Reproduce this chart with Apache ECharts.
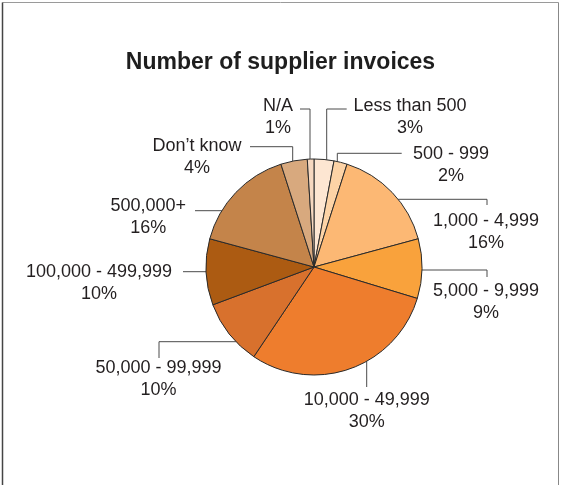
<!DOCTYPE html>
<html>
<head>
<meta charset="utf-8">
<script src="https://cdn.jsdelivr.net/npm/echarts@6/dist/echarts.min.js"></script>
<style>
  html, body { margin: 0; padding: 0; background: #fff; }
  #chart { width: 561px; height: 485px; }
</style>
</head>
<body>
<div id="chart"></div>
<script>
// ---- data ----
const categories = ['Less than 500', '500 - 999', '1,000 - 4,999', '5,000 - 9,999', '10,000 - 49,999',
  '50,000 - 99,999', '100,000 - 499,999', '500,000+', 'Don\u2019t know', 'N/A'];
const shares = [3, 2, 16, 9, 30, 10, 10, 16, 4, 1];
const titleText = 'Number of supplier invoices';

// ---- styles / layout ----
const colors = ['#FDE6D2', '#FDD3A6', '#FCB874', '#F9A23C', '#EE7D2D',
  '#D8712D', '#AC5B12', '#C4844A', '#D8A97E', '#F6D8C0'];
const CX = 314, CY = 267, R = 108;
// label block centre and leader description per category
// type 'v': vertical leader at x (from pie edge) to y `to`, then horizontal to `end`
// type 'h': horizontal leader at y (from pie edge) to x `to`, then vertical to `end`
const labelLayoutCfg = [
  { lx: 410, ly: 117.5, type: 'v', at: 326.7, to: 109, end: 346.7, side: -1 },
  { lx: 451, ly: 165.5, type: 'v', at: 337.3, to: 153.3, end: 401.7, side: -1 },
  { lx: 486, ly: 232.5, type: 'h', at: 199.3, to: 487, end: 205, side: 1 },
  { lx: 486, ly: 302.5, type: 'h', at: 270, to: 487, end: 277, side: 1 },
  { lx: 366.7, ly: 411, type: 'v', at: 366.7, to: 387, end: null, side: 1 },
  { lx: 158.5, ly: 379, type: 'h', at: 341.7, to: 159, end: 358, side: -1 },
  { lx: 99, ly: 283, type: 'h', at: 271.7, to: 183, end: null, side: -1 },
  { lx: 148.3, ly: 217.5, type: 'h', at: 210.7, to: 195, end: null, side: -1 },
  { lx: 197, ly: 157, type: 'v', at: 292.7, to: 146.7, end: 250, side: -1 },
  { lx: 278, ly: 117.5, type: 'v', at: 310, to: 109, end: 300, side: -1 }
];

function leaderPoints(c) {
  if (c.type === 'v') {
    const dy = Math.sqrt(Math.max(0, R * R - (c.at - CX) * (c.at - CX)));
    const p0 = [c.at, CY + c.side * dy];
    const pts = [p0, [c.at, c.to]];
    if (c.end !== null) pts.push([c.end, c.to]);
    return pts;
  } else {
    const dx = Math.sqrt(Math.max(0, R * R - (c.at - CY) * (c.at - CY)));
    const p0 = [CX + c.side * dx, c.at];
    const pts = [p0, [c.to, c.at]];
    if (c.end !== null) pts.push([c.to, c.end]);
    return pts;
  }
}

const chart = echarts.init(document.getElementById('chart'), null, { renderer: 'canvas' });
const FONT = '"Liberation Sans", Arial, Helvetica, sans-serif';

chart.setOption({
  animation: false,
  backgroundColor: '#ffffff',
  title: {
    text: titleText,
    left: 'center',
    top: 46,
    textStyle: { fontFamily: FONT, fontSize: 23, fontWeight: 'bold', color: '#1e1e1e' }
  },
  graphic: [
    { type: 'line', shape: { x1: 2.5, y1: 2.5, x2: 558.5, y2: 2.5 }, style: { stroke: '#9a9a9a', lineWidth: 1 } },
    { type: 'line', shape: { x1: 2.5, y1: 2.5, x2: 2.5, y2: 485 }, style: { stroke: '#444', lineWidth: 1.5 } },
    { type: 'line', shape: { x1: 558.5, y1: 2.5, x2: 558.5, y2: 485 }, style: { stroke: '#888', lineWidth: 1 } }
  ],
  series: [{
    type: 'pie',
    center: [CX, CY],
    radius: R,
    startAngle: 90,
    clockwise: true,
    avoidLabelOverlap: false,
    minAngle: 0,
    itemStyle: { borderColor: '#2a2a2a', borderWidth: 1 },
    label: {
      show: true,
      position: 'outside',
      fontFamily: FONT,
      fontSize: 18,
      lineHeight: 22,
      color: '#231f20',
      align: 'center',
      formatter: p => p.name + '\n' + p.value + '%'
    },
    labelLine: { show: true, smooth: false, lineStyle: { color: '#4a4a4a', width: 1 } },
    labelLayout: function (params) {
      const c = labelLayoutCfg[params.dataIndex];
      return {
        x: c.lx,
        y: c.ly,
        align: 'center',
        verticalAlign: 'middle',
        labelLinePoints: leaderPoints(c)
      };
    },
    emphasis: { disabled: true },
    data: categories.map((n, i) => ({ name: n, value: shares[i], itemStyle: { color: colors[i] } }))
  }]
});
</script>
</body>
</html>
